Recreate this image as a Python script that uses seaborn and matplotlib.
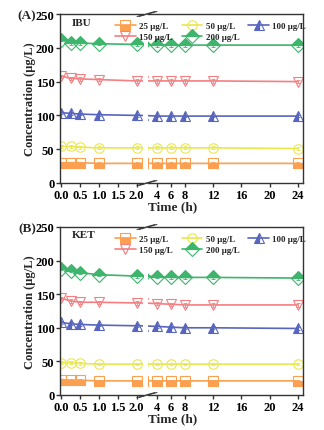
import numpy as np
import pandas as pd
import matplotlib
matplotlib.use("Agg")
import matplotlib.pyplot as plt
import seaborn as sns
from matplotlib.lines import Line2D

# ---------------- data ----------------
time_h = [0, 0.25, 0.5, 1, 2, 4, 6, 8, 12, 24]
conc_labels = ["25 μg/L", "50 μg/L", "100 μg/L", "150 μg/L", "200 μg/L"]

ibu_25 = [30, 30, 30, 29, 29, 29, 29, 29, 29, 29]
ibu_50 = [54, 54, 53, 52, 52, 52, 52, 52, 52, 51]
ibu_100 = [104, 103, 102, 101, 100, 99, 99, 99, 99, 99]
ibu_150 = [158, 155, 154, 153, 151, 151, 151, 151, 151, 150]
ibu_200 = [212, 207, 207, 206, 205, 204, 204, 204, 204, 204]

ket_25 = [23, 22, 22, 21, 21, 21, 21, 21, 21, 21]
ket_50 = [48, 48, 47, 46, 46, 46, 46, 46, 46, 46]
ket_100 = [108, 106, 105, 104, 103, 102, 101, 100, 100, 99]
ket_150 = [144, 140, 138, 138, 137, 136, 135, 134, 134, 134]
ket_200 = [188, 185, 182, 179, 177, 176, 175, 175, 175, 174]

err_by_conc = [1.5, 2.0, 2.0, 2.5, 2.5]

left_ticks = [0.0, 0.5, 1.0, 1.5, 2.0]
right_ticks = [4, 6, 8, 12, 16, 20, 24]
y_ticks = [0, 50, 100, 150, 200, 250]

colors = ["#FBA050", "#E9E84C", "#5865BF", "#F47F80", "#3DB56C"]
markers = ["s", "o", "^", "v", "D"]
fills = ["bottom", "none", "left", "none", "top"]

panels = [("(A)", "IBU", [ibu_25, ibu_50, ibu_100, ibu_150, ibu_200]),
          ("(B)", "KET", [ket_25, ket_50, ket_100, ket_150, ket_200])]

# ---------------- style ----------------
sns.set_theme(style="ticks")
plt.rcParams["font.family"] = ["Liberation Serif", "DejaVu Serif"]
plt.rcParams["font.weight"] = "bold"
plt.rcParams["axes.labelweight"] = "bold"
plt.rcParams["axes.linewidth"] = 1.0
plt.rcParams["axes.edgecolor"] = "#333333"

W, H = 324, 431
fig = plt.figure(figsize=(W / 100, H / 100), dpi=100)


def fx(px):
    return px / W


def fy(py):
    return 1 - py / H


panel_px = [(15, 184), (228, 396)]  # top, bottom in pixels
xl0, xl1 = 60, 143
xr0, xr1 = 148, 303
ms = 6.8

for (plab, drug, series), (top, bot) in zip(panels, panel_px):
    axL = fig.add_axes([fx(xl0), fy(bot), fx(xl1 - xl0), (bot - top) / H])
    axR = fig.add_axes([fx(xr0), fy(bot), fx(xr1 - xr0), (bot - top) / H])
    for ax in (axL, axR):
        for vals, col, mk, fs, er in zip(series, colors, markers, fills, err_by_conc):
            df = pd.DataFrame({"t": time_h, "c": vals})
            sns.lineplot(data=df, x="t", y="c", ax=ax, color=col, lw=1.2,
                         marker=mk, fillstyle=fs, markersize=ms,
                         markeredgecolor=col, markerfacecolor=col,
                         markeredgewidth=0.8, clip_on=True)
            ax.errorbar(time_h, vals, yerr=er, fmt="none", ecolor=col,
                        elinewidth=0.6, capsize=1.5, capthick=0.6)
        ax.set_ylim(0, 250)
        ax.set_xlabel("")
        ax.set_ylabel("")
        ax.tick_params(direction="out", length=3, width=1, labelsize=9,
                       pad=1, colors="#333333", labelcolor="black")
    axL.set_xlim(-0.03, 2.17)
    axL.set_xticks(left_ticks)
    axL.set_xticklabels([f"{v:.1f}" for v in left_ticks], fontweight="bold")
    axL.set_yticks(y_ticks)
    axL.set_yticklabels([str(v) for v in y_ticks], fontweight="bold")
    axL.spines["right"].set_visible(False)
    axR.set_xlim(2.72, 24.75)
    axR.set_xticks(right_ticks)
    axR.set_xticklabels([str(v) for v in right_ticks], fontweight="bold")
    axR.set_yticks([])
    axR.spines["left"].set_visible(False)

    # break marks
    for yb in (top, bot):
        for off in (0, 2):
            fig.add_artist(Line2D([fx(137 + off), fx(155 + off)],
                                  [fy(yb + 2.5), fy(yb - 2.5)],
                                  color="#333333", lw=0.7))

    fig.text(fx(29.5), fy((top + bot) / 2), "Concentration (μg/L)", rotation=90,
             ha="center", va="center", fontsize=9, fontweight="bold")
    fig.text(fx(173), fy(bot + 23), "Time (h)", ha="center", va="center",
             fontsize=9.5, fontweight="bold")
    fig.text(fx(36), fy(top + 1), plab, ha="right", va="center",
             fontsize=9.5, fontweight="bold")
    fig.text(fx(72), fy(top + 8), drug, ha="left", va="center",
             fontsize=8, fontweight="bold")

    handles = [Line2D([], [], color=c, lw=1.2, marker=m, fillstyle=f,
                      markersize=ms, markeredgecolor=c, markerfacecolor=c,
                      markeredgewidth=0.8)
               for c, m, f in zip(colors, markers, fills)]
    order = [0, 3, 1, 4, 2]
    fig.legend([handles[i] for i in order], [conc_labels[i] for i in order],
               loc="upper left", bbox_to_anchor=(fx(115), fy(top + 7.5)),
               ncol=3, frameon=False, handlelength=2.3,
               handletextpad=0.35, columnspacing=1.0, labelspacing=0.3,
               borderpad=0, borderaxespad=0,
               prop={"weight": "bold", "size": 6.5})

fig.savefig("out.png", dpi=100)
